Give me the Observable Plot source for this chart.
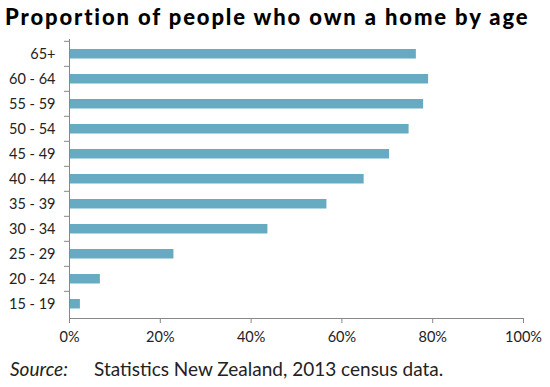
<!DOCTYPE html>
<html><head><meta charset="utf-8">
<script src="https://cdn.jsdelivr.net/npm/d3@7"></script>
<script src="https://cdn.jsdelivr.net/npm/@observablehq/plot@0.6"></script>
<style>
body{margin:0;background:#fff;font-family:Lato,"Open Sans",sans-serif;}
#wrap{width:550px;height:387px;position:relative;overflow:hidden;}
#title{height:38px;font-size:22px;font-weight:900;color:#000;padding-left:5px;line-height:34px;white-space:nowrap;}
#title span{display:inline-block;}
#cap{position:absolute;left:10px;top:357px;font-size:19px;color:#222;white-space:nowrap;line-height:24px;}
#cap i{display:inline-block;width:84px;}
#chart svg text{font-family:Lato,sans-serif !important;font-size:14.5px !important;fill:#222;}
</style></head>
<body><div id="wrap"><div id="title"><span id="tt">Proportion of people who own a home by age</span></div><div id="chart"></div>
<div id="cap"><i>Source:</i>Statistics New Zealand, 2013 census data.</div></div>
<script>
const ages = ["65+","60 - 64","55 - 59","50 - 54","45 - 49","40 - 44","35 - 39","30 - 34","25 - 29","20 - 24","15 - 19"];
const owned = [76.4, 79.1, 78.0, 74.8, 70.5, 64.9, 56.7, 43.7, 23.0, 6.8, 2.4];
const xTicks = [0, 20, 40, 60, 80, 100];
const data = ages.map((a, i) => ({age: a, value: owned[i]}));
const H = 310, mT = 1, mB = 30;
const step = (H - mT - mB) / ages.length;
const chart = Plot.plot({
  width: 550, height: H,
  marginLeft: 69, marginRight: 27, marginTop: mT, marginBottom: mB,
  style: {fontFamily: "Lato, sans-serif", fontSize: "14.5px", color: "#222"},
  x: {domain: [0, 100], label: null},
  y: {domain: ages, padding: 0, label: null},
  marks: [
    Plot.barX(data, {x: "value", y: "age", fill: "#66abc2", insetTop: 8, insetBottom: 7.5}),
    Plot.frame({anchor: "left", stroke: "#888"}),
    Plot.frame({anchor: "bottom", stroke: "#888"}),
    Plot.axisY({tickSize: 0, tickPadding: 14}),
    Plot.axisY({tickSize: 5, tickFormat: () => "", stroke: "#888", dy: -step / 2}),
    Plot.axisX({ticks: xTicks, tickSize: 5, tickPadding: 8, stroke: "#888", tickFormat: d => d + "%"})
  ]
});
document.getElementById("chart").appendChild(chart);
// fit title width to reference span
const tt = document.getElementById("tt");
const w = tt.getBoundingClientRect().width;
const n = tt.textContent.length;
tt.style.letterSpacing = ((523 - w) / (n - 1)) + "px";
</script></body></html>
